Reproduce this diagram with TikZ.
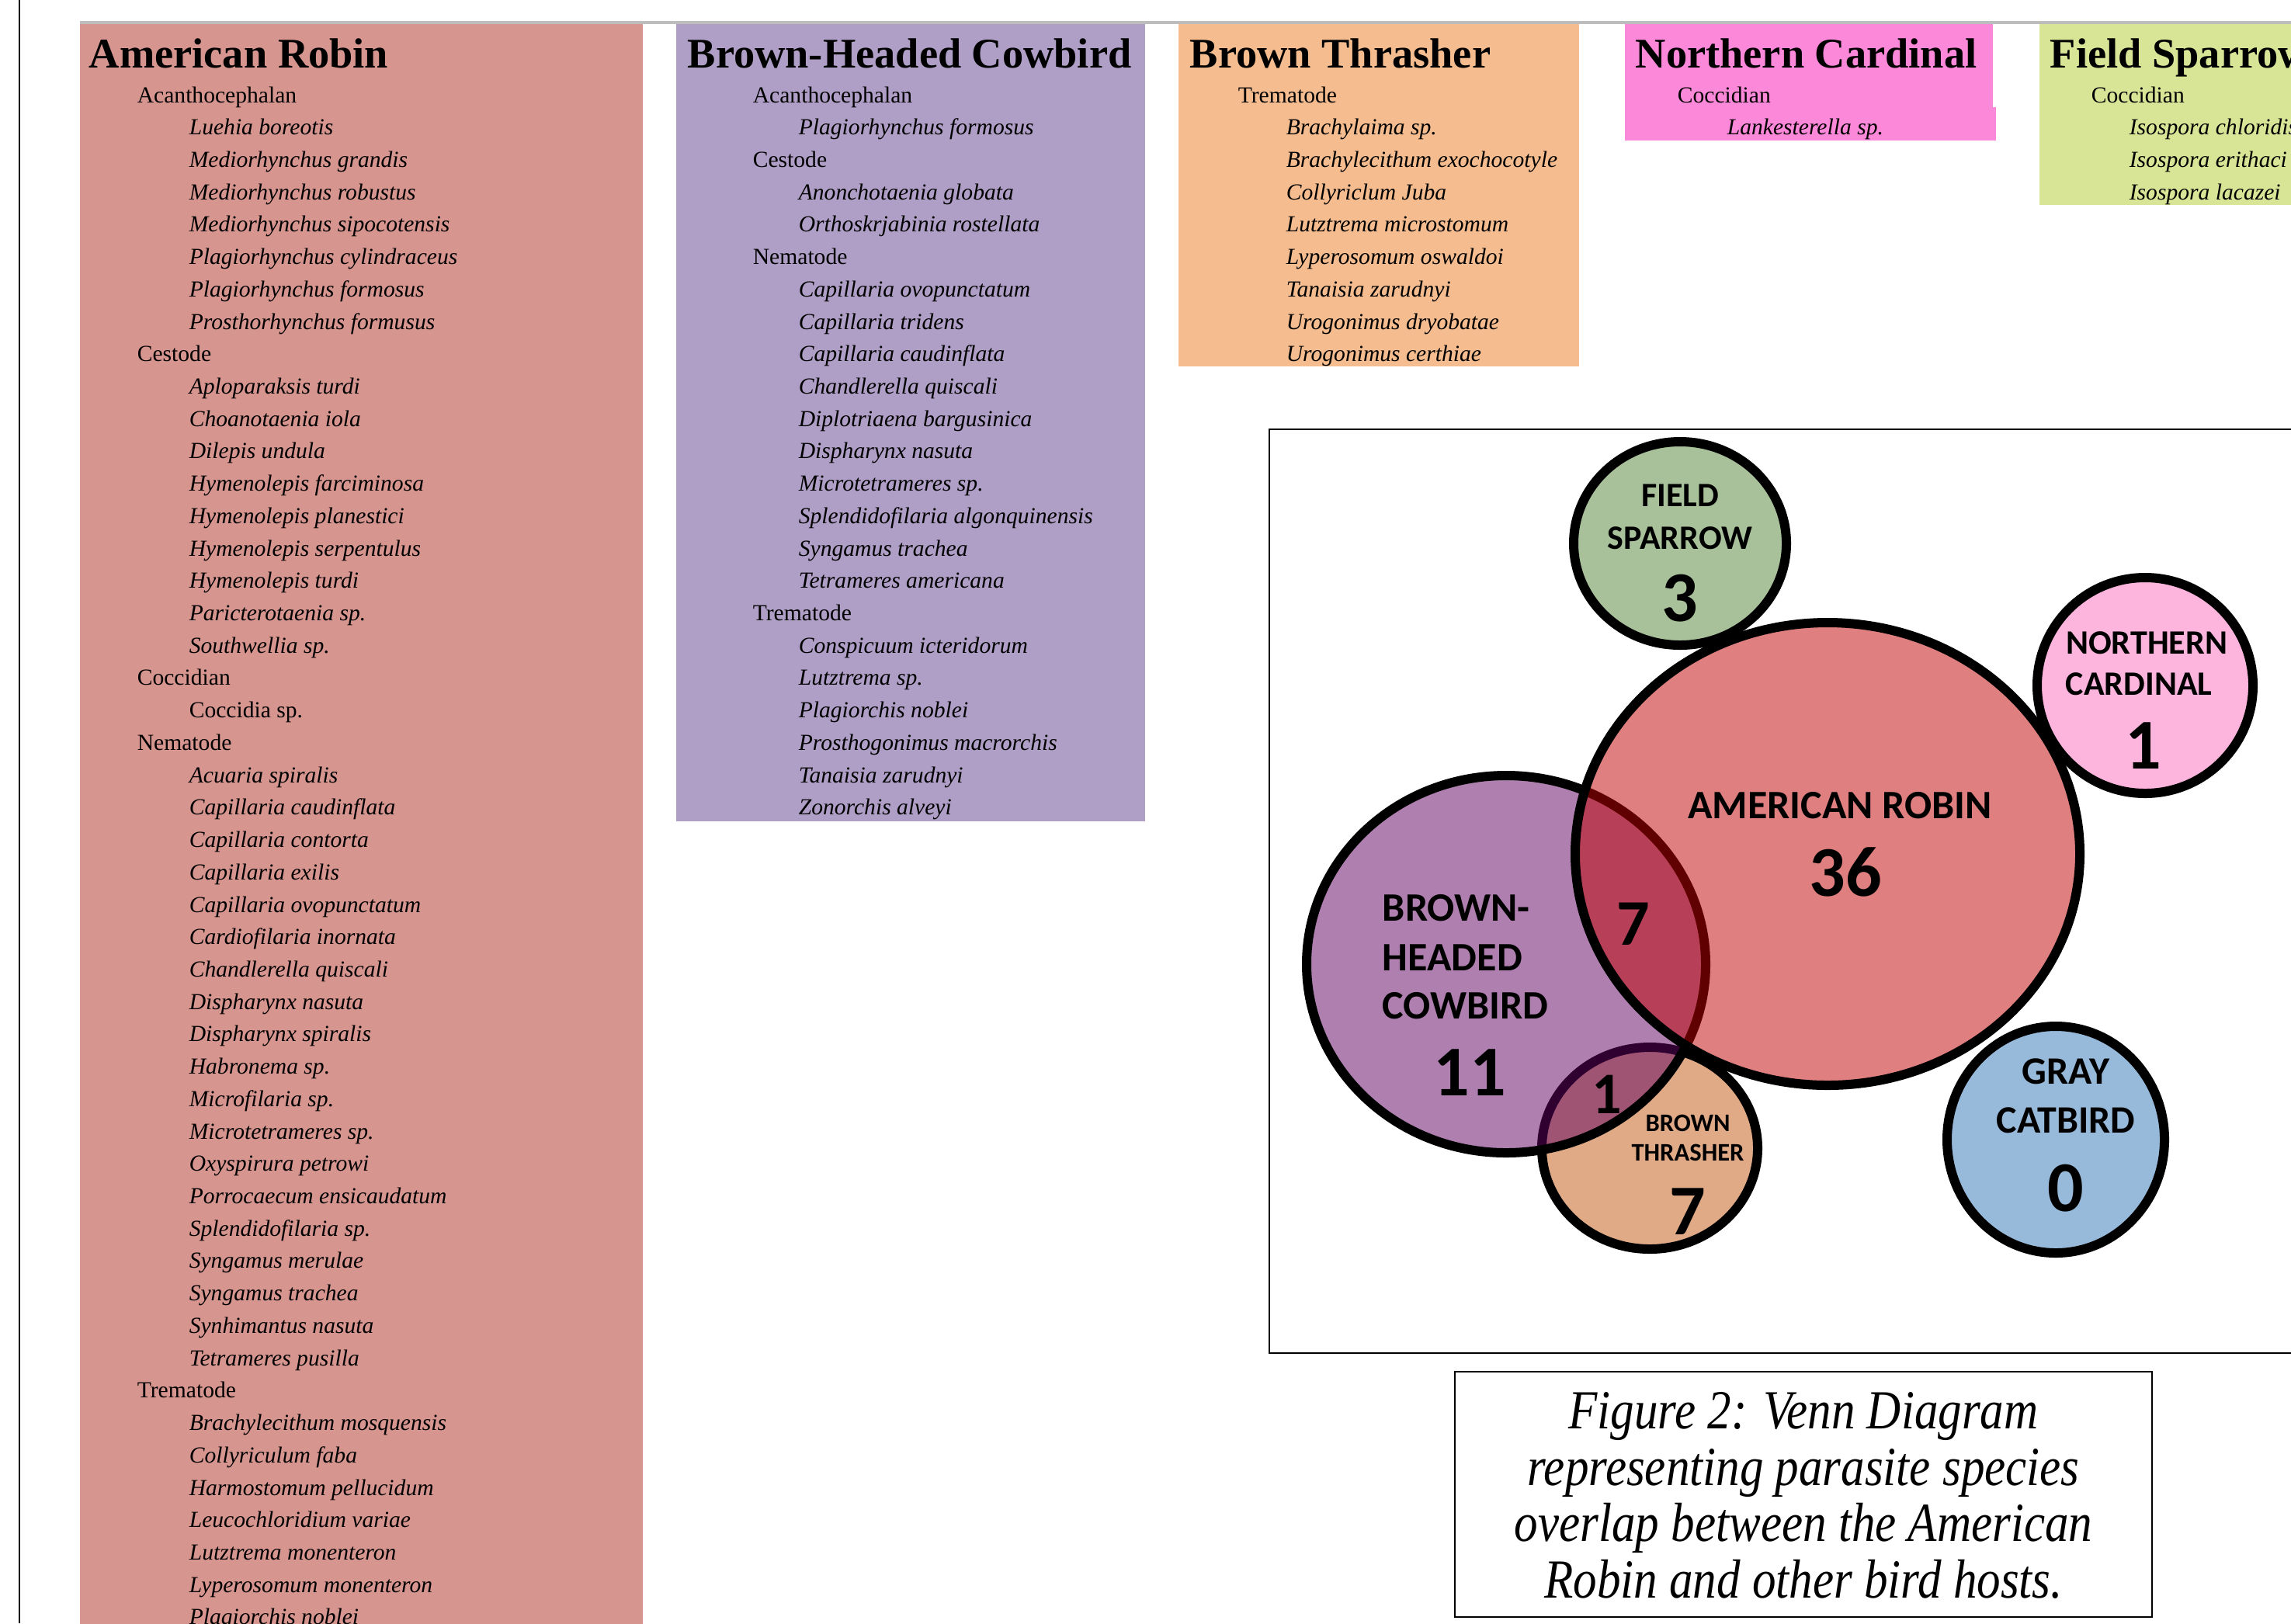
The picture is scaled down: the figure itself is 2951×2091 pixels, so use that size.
\documentclass[tikz,border=0pt]{standalone}
\usepackage{fontspec}
\setmainfont{Liberation Serif}
\newfontfamily\vennfont{Carlito}
\newfontfamily\capfont{Liberation Serif}[FakeStretch=0.86]
\definecolor{robinbox}{HTML}{D7958F}
\definecolor{cowbox}{HTML}{AF9EC6}
\definecolor{thrbox}{HTML}{F5BD8F}
\definecolor{carbox}{HTML}{FB88D8}
\definecolor{spabox}{HTML}{D8E596}
\definecolor{bandgray}{HTML}{BDBDBD}
\definecolor{vrobin}{RGB}{192,0,0}
\definecolor{vcow}{RGB}{97,0,97}
\definecolor{vthr}{RGB}{225,170,135}
\definecolor{vspa}{RGB}{169,193,154}
\definecolor{vcar}{RGB}{253,181,222}
\definecolor{vcat}{RGB}{151,185,218}
\tikzset{
  ttlst/.style={anchor=base west, inner sep=0pt, font=\fontsize{13.6}{15}\selectfont\bfseries},
  catst/.style={anchor=base west, inner sep=0pt, font=\fontsize{7.4}{8}\selectfont},
  spst/.style={anchor=base west, inner sep=0pt, font=\fontsize{7.4}{8}\selectfont\itshape},
  ring/.style={draw=black, line width=3pt},
  vlab/.style={anchor=base, inner sep=0pt, font=\vennfont\bfseries\fontsize{11}{12}\selectfont},
  vnum/.style={anchor=base, inner sep=0pt, font=\vennfont\bfseries\fontsize{23}{24}\selectfont},
  capline/.style={anchor=base, inner sep=0pt, font=\capfont\itshape\fontsize{17.75}{19}\selectfont}
}
\newcommand\catrow[4]{\node[catst] (#1) at (#2,{132+(#3-1)*41.72}) {#4};}
\newcommand\sprow[4]{\node[spst] (#1) at (#2,{132+(#3-1)*41.72}) {#4};}
\begin{document}
\begin{tikzpicture}[x=0.25pt,y=-0.25pt]
\useasboundingbox (0,0) rectangle (2951,2091);
\fill[white] (0,0) rectangle (2951,2091);
% left rule
\draw[line width=0.5pt] (25,0) -- (25,2091);
% top band
\fill[bandgray] (103,27) rectangle (2951,31);
% boxes
\fill[robinbox] (103,31) rectangle (828,2095);
\fill[cowbox] (871,31) rectangle (1475,1058);
\fill[thrbox] (1518,31) rectangle (2034,472);
\fill[carbox] (2093,31) rectangle (2567,181);
\fill[carbox] (2093,138) rectangle (2571,181);
\fill[spabox] (2627,31) rectangle (2960,264);

% ---------- American Robin ----------
\node[ttlst] (rt) at (114,87) {American Robin};
\catrow{r1}{176}{1}{Acanthocephalan}
\sprow{r2}{243}{2}{Luehia boreotis}
\sprow{r3}{243}{3}{Mediorhynchus grandis}
\sprow{r4}{243}{4}{Mediorhynchus robustus}
\sprow{r5}{243}{5}{Mediorhynchus sipocotensis}
\sprow{r6}{243}{6}{Plagiorhynchus cylindraceus}
\sprow{r7}{243}{7}{Plagiorhynchus formosus}
\sprow{r8}{243}{8}{Prosthorhynchus formusus}
\catrow{r9}{176}{9}{Cestode}
\sprow{r10}{243}{10}{Aploparaksis turdi}
\sprow{r11}{243}{11}{Choanotaenia iola}
\sprow{r12}{243}{12}{Dilepis undula}
\sprow{r13}{243}{13}{Hymenolepis farciminosa}
\sprow{r14}{243}{14}{Hymenolepis planestici}
\sprow{r15}{243}{15}{Hymenolepis serpentulus}
\sprow{r16}{243}{16}{Hymenolepis turdi}
\sprow{r17}{243}{17}{Paricterotaenia sp.}
\sprow{r18}{243}{18}{Southwellia sp.}
\catrow{r19}{176}{19}{Coccidian}
\catrow{r20}{243}{20}{Coccidia sp.}
\catrow{r21}{176}{21}{Nematode}
\sprow{r22}{243}{22}{Acuaria spiralis}
\sprow{r23}{243}{23}{Capillaria caudinflata}
\sprow{r24}{243}{24}{Capillaria contorta}
\sprow{r25}{243}{25}{Capillaria exilis}
\sprow{r26}{243}{26}{Capillaria ovopunctatum}
\sprow{r27}{243}{27}{Cardiofilaria inornata}
\sprow{r28}{243}{28}{Chandlerella quiscali}
\sprow{r29}{243}{29}{Dispharynx nasuta}
\sprow{r30}{243}{30}{Dispharynx spiralis}
\sprow{r31}{243}{31}{Habronema sp.}
\sprow{r32}{243}{32}{Microfilaria sp.}
\sprow{r33}{243}{33}{Microtetrameres sp.}
\sprow{r34}{243}{34}{Oxyspirura petrowi}
\sprow{r35}{243}{35}{Porrocaecum ensicaudatum}
\sprow{r36}{243}{36}{Splendidofilaria sp.}
\sprow{r37}{243}{37}{Syngamus merulae}
\sprow{r38}{243}{38}{Syngamus trachea}
\sprow{r39}{243}{39}{Synhimantus nasuta}
\sprow{r40}{243}{40}{Tetrameres pusilla}
\catrow{r41}{176}{41}{Trematode}
\sprow{r42}{243}{42}{Brachylecithum mosquensis}
\sprow{r43}{243}{43}{Collyriculum faba}
\sprow{r44}{243}{44}{Harmostomum pellucidum}
\sprow{r45}{243}{45}{Leucochloridium variae}
\sprow{r46}{243}{46}{Lutztrema monenteron}
\sprow{r47}{243}{47}{Lyperosomum monenteron}
\sprow{r48}{243}{48}{Plagiorchis noblei}

% ---------- Brown-Headed Cowbird ----------
\node[ttlst] (ct) at (885,87) {Brown-Headed Cowbird};
\catrow{c1}{969}{1}{Acanthocephalan}
\sprow{c2}{1028}{2}{Plagiorhynchus formosus}
\catrow{c3}{969}{3}{Cestode}
\sprow{c4}{1028}{4}{Anonchotaenia globata}
\sprow{c5}{1028}{5}{Orthoskrjabinia rostellata}
\catrow{c6}{969}{6}{Nematode}
\sprow{c7}{1028}{7}{Capillaria ovopunctatum}
\sprow{c8}{1028}{8}{Capillaria tridens}
\sprow{c9}{1028}{9}{Capillaria caudinflata}
\sprow{c10}{1028}{10}{Chandlerella quiscali}
\sprow{c11}{1028}{11}{Diplotriaena bargusinica}
\sprow{c12}{1028}{12}{Dispharynx nasuta}
\sprow{c13}{1028}{13}{Microtetrameres sp.}
\sprow{c14}{1028}{14}{Splendidofilaria algonquinensis}
\sprow{c15}{1028}{15}{Syngamus trachea}
\sprow{c16}{1028}{16}{Tetrameres americana}
\catrow{c17}{969}{17}{Trematode}
\sprow{c18}{1028}{18}{Conspicuum icteridorum}
\sprow{c19}{1028}{19}{Lutztrema sp.}
\sprow{c20}{1028}{20}{Plagiorchis noblei}
\sprow{c21}{1028}{21}{Prosthogonimus macrorchis}
\sprow{c22}{1028}{22}{Tanaisia zarudnyi}
\sprow{c23}{1028}{23}{Zonorchis alveyi}

% ---------- Brown Thrasher ----------
\node[ttlst] (tt) at (1532,87) {Brown Thrasher};
\catrow{t1}{1594}{1}{Trematode}
\sprow{t2}{1656}{2}{Brachylaima sp.}
\sprow{t3}{1656}{3}{Brachylecithum exochocotyle}
\sprow{t4}{1656}{4}{Collyriclum Juba}
\sprow{t5}{1656}{5}{Lutztrema microstomum}
\sprow{t6}{1656}{6}{Lyperosomum oswaldoi}
\sprow{t7}{1656}{7}{Tanaisia zarudnyi}
\sprow{t8}{1656}{8}{Urogonimus dryobatae}
\sprow{t9}{1656}{9}{Urogonimus certhiae}

% ---------- Northern Cardinal ----------
\node[ttlst] (nt) at (2106,87) {Northern Cardinal};
\catrow{n1}{2160}{1}{Coccidian}
\sprow{n2}{2224}{2}{Lankesterella sp.}

% ---------- Field Sparrow ----------
\node[ttlst] (ft) at (2640,87) {Field Sparrow};
\catrow{f1}{2693}{1}{Coccidian}
\sprow{f2}{2742}{2}{Isospora chloridis}
\sprow{f3}{2742}{3}{Isospora erithaci}
\sprow{f4}{2742}{4}{Isospora lacazei}

% ---------- Venn frame ----------
\draw[line width=0.5pt] (1635,553) rectangle (3000,1743);

% circles (order matters for the see-through overlaps)
\draw[ring, fill=vthr] (2125,1479) ellipse [x radius=139, y radius=130];
\draw[ring, fill=vcow, fill opacity=0.5] (1940,1242) ellipse [x radius=257, y radius=243];
\draw[ring, fill=vrobin, fill opacity=0.5] (2354,1100) ellipse [x radius=325, y radius=298];
\draw[ring, fill=vspa] (2164,700) ellipse [x radius=137, y radius=131];
\draw[ring, fill=vcar] (2763,883) circle [radius=139];
\draw[ring, fill=vcat] (2648,1468) ellipse [x radius=140, y radius=146];

% venn labels
\node[vlab] (fsa) at (2164,652) {FIELD};
\node[vlab] (fsb) at (2164,707) {SPARROW};
\node[vnum] (fsn) at (2164,800) {3};
\node[vlab] (nca) at (2765,842) {NORTHERN};
\node[vlab] (ncb) at (2755,895) {CARDINAL};
\node[vnum] (ncn) at (2761,990) {1};
\node[vlab, font=\vennfont\bfseries\fontsize{13}{14}\selectfont] (ara) at (2370,1054) {AMERICAN ROBIN};
\node[vnum] (arn) at (2377,1154) {36};
\node[vlab, anchor=base west, font=\vennfont\bfseries\fontsize{13}{14}\selectfont] (bha) at (1780,1186) {BROWN-};
\node[vlab, anchor=base west, font=\vennfont\bfseries\fontsize{13}{14}\selectfont] (bhb) at (1780,1250) {HEADED};
\node[vlab, anchor=base west, font=\vennfont\bfseries\fontsize{13}{14}\selectfont] (bhc) at (1780,1312) {COWBIRD};
\node[vnum] (bhn) at (1893,1411) {11};
\node[vnum, font=\vennfont\bfseries\fontsize{21}{22}\selectfont] (rcn) at (2104,1217) {7};
\node[vnum, font=\vennfont\bfseries\fontsize{19}{20}\selectfont] (ctn) at (2070,1434) {1};
\node[vlab, font=\vennfont\bfseries\fontsize{8.15}{9}\selectfont] (bta) at (2174,1457) {BROWN};
\node[vlab, font=\vennfont\bfseries\fontsize{8.15}{9}\selectfont] (btb) at (2174,1495) {THRASHER};
\node[vnum] (btn) at (2174,1590) {7};
\node[vlab, font=\vennfont\bfseries\fontsize{12.5}{13}\selectfont] (gca) at (2661,1396) {GRAY};
\node[vlab, font=\vennfont\bfseries\fontsize{12.5}{13}\selectfont] (gcb) at (2661,1459) {CATBIRD};
\node[vnum] (gcn) at (2661,1560) {0};

% caption
\draw[line width=0.7pt] (1874,1767) rectangle (2772,2083);
\node[capline] (cp1) at (2323,1840) {Figure 2: Venn Diagram};
\node[capline] (cp2) at (2323,1913) {representing parasite species};
\node[capline] (cp3) at (2323,1985) {overlap between the American};
\node[capline] (cp4) at (2323,2058) {Robin and other bird hosts.};
\end{tikzpicture}
\end{document}
